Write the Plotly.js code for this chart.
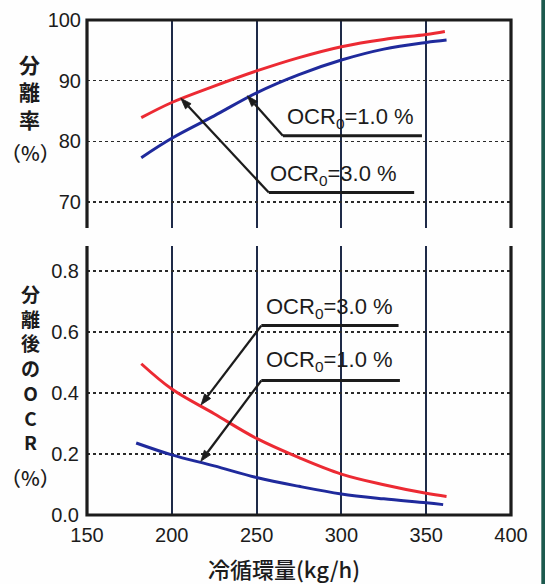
<!DOCTYPE html>
<html>
<head>
<meta charset="utf-8">
<script src="https://cdn.plot.ly/plotly-3.0.1.min.js"></script>
<style>html,body{margin:0;padding:0;background:#fff;}#chart{width:545px;height:584px;}</style>
</head>
<body>
<div id="chart"></div>
<script>
// ---- data ----
const xTopRed   = [182, 200, 225, 250, 275, 300, 325, 350, 361];
const yTopRed   = [83.9, 86.4, 89.1, 91.6, 93.8, 95.6, 96.8, 97.6, 98.1];   // OCR0=3.0 %
const xTopBlue  = [182, 200, 225, 250, 275, 300, 325, 350, 362];
const yTopBlue  = [77.3, 80.5, 84.2, 88.0, 91.0, 93.4, 95.2, 96.3, 96.7];   // OCR0=1.0 %
const xBotRed   = [182, 200, 225, 250, 275, 300, 325, 350, 362];
const yBotRed   = [0.496, 0.413, 0.332, 0.251, 0.188, 0.134, 0.099, 0.071, 0.061]; // OCR0=3.0 %
const xBotBlue  = [179, 200, 225, 250, 275, 300, 325, 350, 360];
const yBotBlue  = [0.236, 0.197, 0.161, 0.123, 0.094, 0.069, 0.053, 0.040, 0.034]; // OCR0=1.0 %

const xTicks = [150, 200, 250, 300, 350, 400];
const yTopTicks = [70, 80, 90, 100];
const yBotTicks = [0, 0.2, 0.4, 0.6, 0.8];
const labelTop = ['OCR<sub>0</sub>=1.0 %', 'OCR<sub>0</sub>=3.0 %'];
const labelBot = ['OCR<sub>0</sub>=3.0 %', 'OCR<sub>0</sub>=1.0 %'];
const yTitleTop = '分<br>離<br>率';
const yTitleBot = '分<br>離<br>後<br>の<br>O<br>C<br>R';
const pctLabel = '（%）';
const xTitle = '冷循環量(kg/h)';

// ---- styling / positions ----
const W = 545, H = 584;
const M = {l: 87, r: 34, t: 20, b: 69};
const xRange = [150, 400];
const yTopRange = [65.71, 100], yTopDomain = [0.5798, 1];
const yBotRange = [0, 0.882], yBotDomain = [0, 0.5434];
const RED = '#ec2a33', BLUE = '#1f2a9c', INK = '#1c1c1c';
const lineStyle = c => ({color: c, width: 3, shape: 'spline', smoothing: 1});
const tickFont = {family: 'Liberation Sans, Arial, sans-serif', size: 20, color: INK};
const cjkFont = {family: 'Noto Sans CJK JP, sans-serif', size: 21, color: INK, weight: 700};
const annFont = {family: 'Liberation Sans, Arial, sans-serif', size: 22, color: INK};

// pixel-per-unit scale factors derived from the layout (used only to orient arrowheads)
const plotW = W - M.l - M.r, plotH = H - M.t - M.b;
const kx = plotW / (xRange[1] - xRange[0]);
const kyTop = plotH * (yTopDomain[1] - yTopDomain[0]) / (yTopRange[1] - yTopRange[0]);
const kyBot = plotH * (yBotDomain[1] - yBotDomain[0]) / (yBotRange[1] - yBotRange[0]);

// callout: [head x, head y, tail x, tail y, underline end x, text x, text y, label, xref, yref]
const callouts = [
  [244.5, 87.5, 265.5, 80.9, 347.5, 305.6, 83.85, labelTop[0], 'x', 'y'],
  [205.3, 87.1, 257.2, 71.55, 342.9, 295.4, 74.45, labelTop[1], 'x', 'y'],
  [217.2, 0.361, 252.8, 0.621, 333.7, 293.1, 0.680, labelBot[0], 'x2', 'y2'],
  [217.1, 0.176, 252.8, 0.441, 334.5, 293.1, 0.504, labelBot[1], 'x2', 'y2']
];

const traces = [
  {x: xTopRed, y: yTopRed, xaxis: 'x', yaxis: 'y', mode: 'lines', line: lineStyle(RED), name: 'OCR0=3.0 %'},
  {x: xTopBlue, y: yTopBlue, xaxis: 'x', yaxis: 'y', mode: 'lines', line: lineStyle(BLUE), name: 'OCR0=1.0 %'},
  {x: xBotRed, y: yBotRed, xaxis: 'x2', yaxis: 'y2', mode: 'lines', line: lineStyle(RED), name: 'OCR0=3.0 %'},
  {x: xBotBlue, y: yBotBlue, xaxis: 'x2', yaxis: 'y2', mode: 'lines', line: lineStyle(BLUE), name: 'OCR0=1.0 %'}
];

const annotations = [];
const shapes = [];
const HEAD_L = 11, HEAD_W = 3.8;
callouts.forEach(c => {
  const [hx, hy, tx, ty, ux, lx, ly, txt, xr, yr] = c;
  const ky = (yr === 'y') ? kyTop : kyBot;
  const dx = (tx - hx) * kx, dy = (ty - hy) * ky;
  const len = Math.hypot(dx, dy);
  const u = [dx / len, dy / len], p = [-u[1], u[0]];
  const b = [u[0] * HEAD_L, u[1] * HEAD_L];
  // shaft from tail to arrowhead base
  shapes.push({type: 'line', xref: xr, yref: yr, x0: tx, y0: ty,
    x1: hx + b[0] / kx, y1: hy + b[1] / ky, line: {color: INK, width: 2.3}});
  // arrowhead (pixel-sized triangle anchored at the head)
  const pts = [[0, 0], [b[0] + p[0] * HEAD_W, b[1] + p[1] * HEAD_W], [b[0] - p[0] * HEAD_W, b[1] - p[1] * HEAD_W]];
  shapes.push({type: 'path', xref: xr, yref: yr, xsizemode: 'pixel', ysizemode: 'pixel', xanchor: hx, yanchor: hy,
    path: 'M' + pts.map(q => q[0].toFixed(2) + ',' + q[1].toFixed(2)).join(' L') + ' Z',
    fillcolor: INK, line: {color: INK, width: 0.8}});
  // horizontal leader under the label
  shapes.push({type: 'line', xref: xr, yref: yr, x0: tx, x1: ux, y0: ty, y1: ty, line: {color: INK, width: 3}});
  annotations.push({x: lx, y: ly, xref: xr, yref: yr, text: txt, showarrow: false, font: annFont,
    xanchor: 'center', yanchor: 'middle'});
});

// frame pieces
shapes.push({type: 'path', xref: 'x domain', yref: 'y domain', path: 'M0,0 L0,1 L1,1 L1,0', line: {color: INK, width: 3.2}});
shapes.push({type: 'path', xref: 'x2 domain', yref: 'y2 domain', path: 'M0,1 L0,0 L1,0 L1,1', line: {color: INK, width: 3.2}});
// scan edge band on the right
shapes.push({type: 'rect', xref: 'paper', yref: 'paper', x0: 1.0715, x1: 1.1, y0: -0.2, y1: 1.1, line: {width: 0}, fillcolor: '#1d5a4e'});

const px2paperX = px => (px - M.l) / plotW;
const px2paperY = py => (H - M.b - py) / plotH;
annotations.push({xref: 'paper', yref: 'paper', x: px2paperX(29), y: px2paperY(91), text: yTitleTop, showarrow: false, font: cjkFont, xanchor: 'center', yanchor: 'middle'});
annotations.push({xref: 'paper', yref: 'paper', x: px2paperX(30), y: px2paperY(152), text: pctLabel, showarrow: false, font: Object.assign({}, cjkFont, {size: 20, weight: 500}), xanchor: 'center', yanchor: 'middle'});
annotations.push({xref: 'paper', yref: 'paper', x: px2paperX(30), y: px2paperY(367.5), text: yTitleBot, showarrow: false, font: Object.assign({}, cjkFont, {size: 19}), xanchor: 'center', yanchor: 'middle'});
annotations.push({xref: 'paper', yref: 'paper', x: px2paperX(30), y: px2paperY(477), text: pctLabel, showarrow: false, font: Object.assign({}, cjkFont, {size: 20, weight: 500}), xanchor: 'center', yanchor: 'middle'});
annotations.push({xref: 'paper', yref: 'paper', x: px2paperX(283.5), y: px2paperY(568), text: xTitle, showarrow: false, font: Object.assign({}, cjkFont, {size: 22, weight: 500}), xanchor: 'center', yanchor: 'middle'});

const vGrid = {showgrid: true, gridcolor: '#1e2a48', gridwidth: 1.8, zeroline: false, showline: false};
const hGrid = {showgrid: true, gridcolor: '#2a2a2a', gridwidth: 1.6, griddash: 'dot', zeroline: false, showline: false};

const layout = {
  width: W, height: H,
  margin: M,
  paper_bgcolor: '#fefefe', plot_bgcolor: '#fefefe',
  showlegend: false,
  xaxis: Object.assign({}, vGrid, {anchor: 'y', domain: [0, 1], range: xRange, tickvals: xTicks, showticklabels: false, ticks: ''}),
  yaxis: Object.assign({}, hGrid, {anchor: 'x', domain: yTopDomain, range: yTopRange, tickvals: yTopTicks, tickfont: tickFont, ticks: '', ticklabelstandoff: 5}),
  xaxis2: Object.assign({}, vGrid, {anchor: 'y2', domain: [0, 1], range: xRange, matches: 'x', tickvals: xTicks, tickfont: tickFont, ticks: '', ticklabelstandoff: 6}),
  yaxis2: Object.assign({}, hGrid, {anchor: 'x2', domain: yBotDomain, range: yBotRange, tickvals: yBotTicks, tickformat: '.1f', tickfont: tickFont, ticks: '', ticklabelstandoff: 7}),
  annotations: annotations,
  shapes: shapes
};

Plotly.newPlot('chart', traces, layout, {staticPlot: true, displayModeBar: false});
</script>
</body>
</html>
